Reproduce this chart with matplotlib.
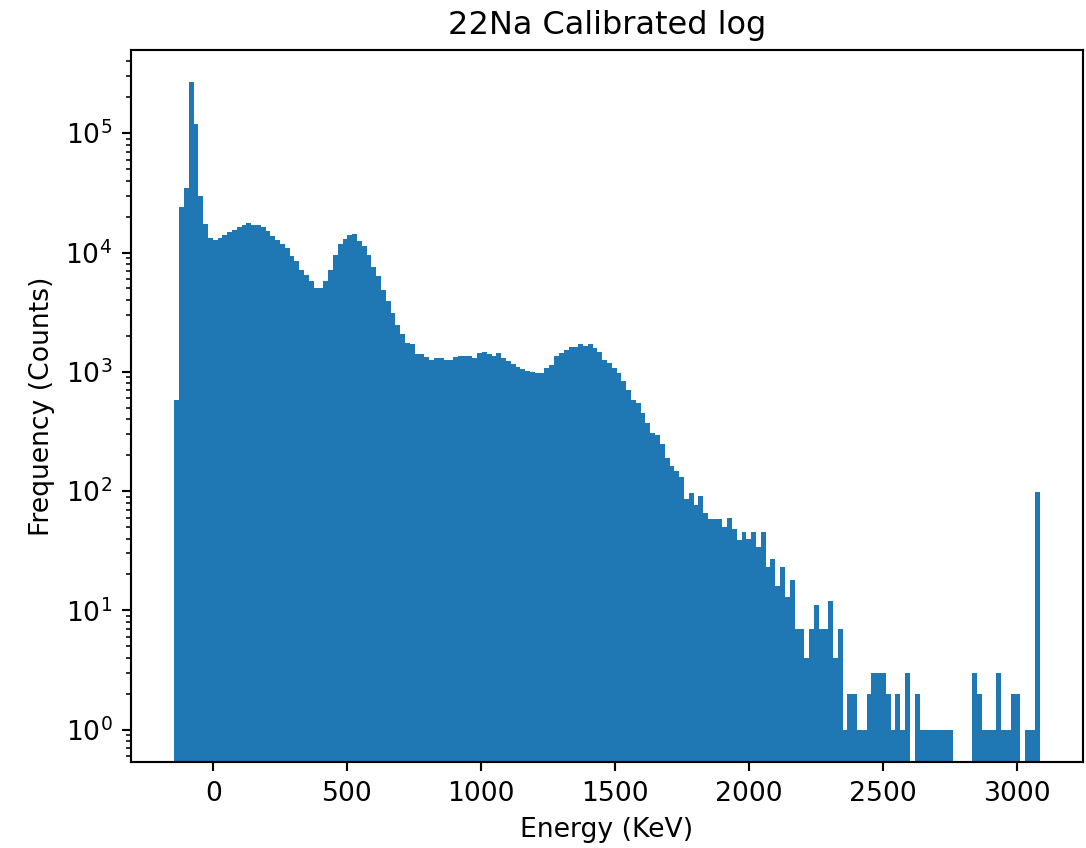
import numpy as np
import matplotlib
matplotlib.use("Agg")
import matplotlib.pyplot as plt

# calibrated energy range of the histogram (keV) and number of bins
e_min = -145.5
e_max = 3083.6
n_bins = 180

# counts per bin
counts = [
    580, 24000, 34800, 267000, 118600, 30000, 17350, 13240, 12660, 13240,
    13940, 14870, 15550, 16380, 17130, 17800, 17130, 17130, 16290, 15070,
    13680, 12650, 11790, 10910, 9290, 8440, 7180, 6520, 5730, 5030,
    5030, 5800, 7180, 9470, 11790, 13060, 14000, 14300, 12420, 11270,
    9470, 7500, 6310, 4870, 3890, 3100, 2470, 2070, 1735, 1700,
    1400, 1400, 1340, 1257, 1300, 1316, 1257, 1257, 1342, 1368,
    1368, 1368, 1316, 1430, 1478, 1403, 1368, 1430, 1298, 1232,
    1156, 1106, 1057, 1010, 990, 971, 971, 1085, 1140, 1358,
    1430, 1525, 1628, 1628, 1713, 1648, 1700, 1597, 1459, 1257,
    1178, 1070, 980, 837, 703, 580, 543, 448, 369, 308,
    294, 246, 190, 163, 147, 132, 86, 97, 77, 91,
    65, 58, 58, 58, 50, 60, 48, 39, 45, 40,
    45, 34, 45, 23, 27, 16, 23, 13, 18, 7,
    7, 4, 7, 11, 7, 7, 12, 4, 7, 1,
    2, 2, 1, 1, 2, 3, 3, 3, 2, 1,
    2, 1, 3, 0, 2, 1, 1, 1, 1, 1,
    1, 1, 0, 0, 0, 0, 3, 2, 1, 1,
    1, 3, 1, 1, 2, 2, 0, 1, 1, 98,
]

edges = np.linspace(e_min, e_max, n_bins + 1)
centers = 0.5 * (edges[:-1] + edges[1:])

fig = plt.figure(figsize=(1086 / 192, 848 / 192), dpi=192)
ax = fig.add_axes([131 / 1086, 86 / 848, 952 / 1086, 712 / 848])
ax.hist(centers, bins=edges, weights=counts, log=True)
ax.set_title("22Na Calibrated log")
ax.set_xlabel("Energy (KeV)")
ax.set_ylabel("Frequency (Counts)")

fig.savefig("out.png", dpi=192)
